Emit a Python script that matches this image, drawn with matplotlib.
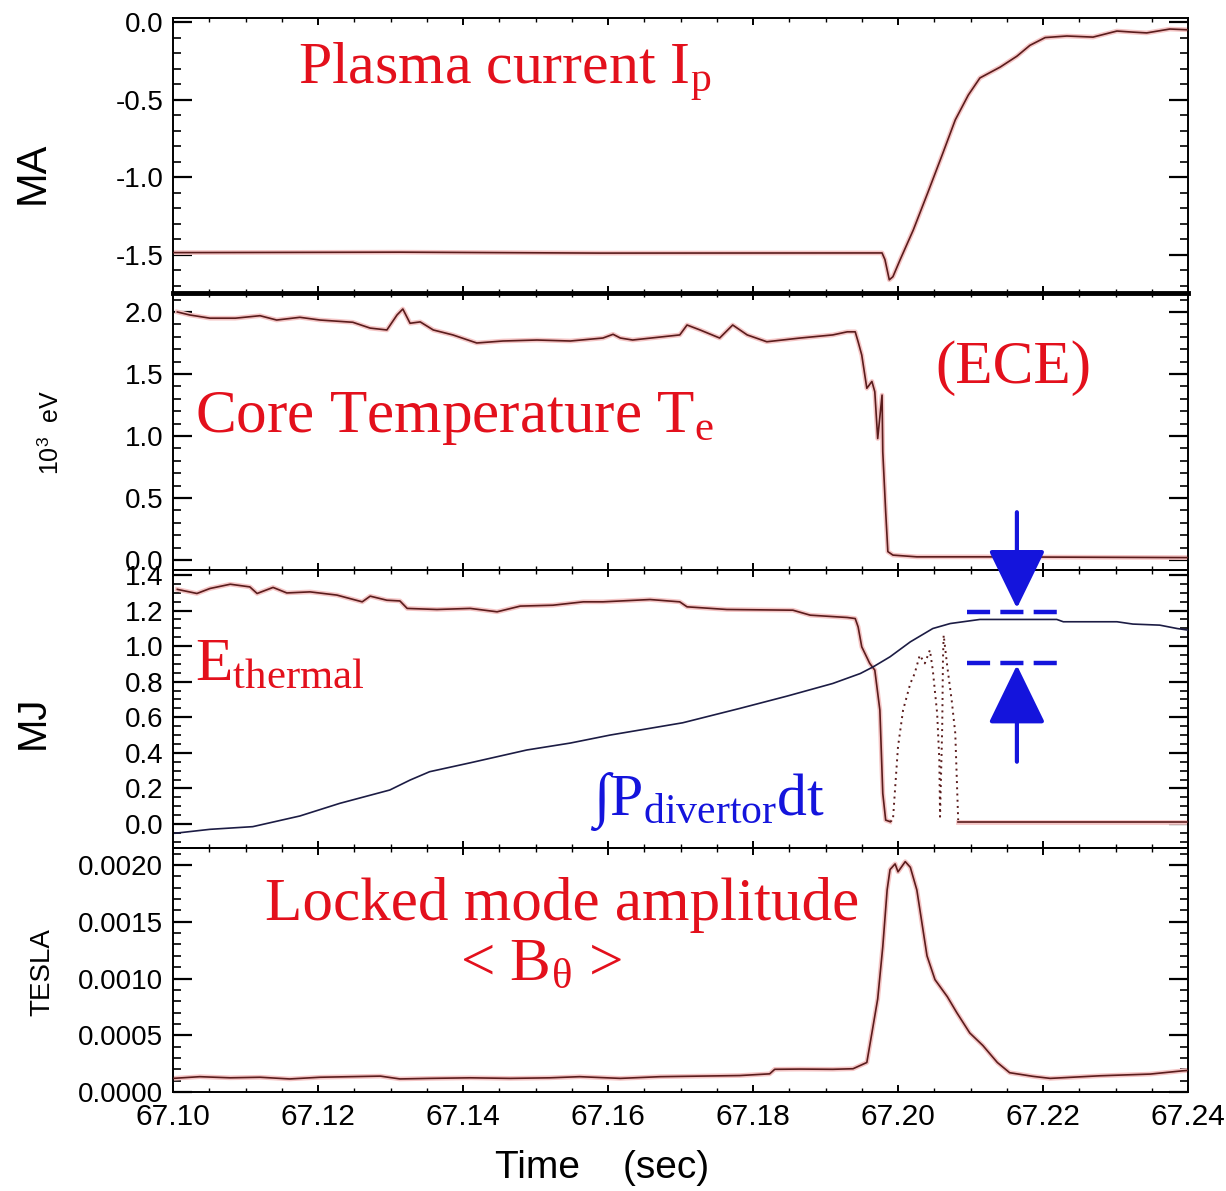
"""
Disrupción: Ip, Te, energía térmica y modo bloqueado (4 paneles apilados).
"""
import matplotlib
matplotlib.use('Agg')
import matplotlib.pyplot as plt
from matplotlib.ticker import MultipleLocator, FormatStrFormatter

plt.rcParams['font.family'] = ['Liberation Sans', 'DejaVu Sans']
plt.rcParams['axes.unicode_minus'] = False
plt.rcParams['mathtext.fontset'] = 'custom'
plt.rcParams['mathtext.rm'] = 'Liberation Serif'
plt.rcParams['mathtext.it'] = 'Liberation Serif:italic'
plt.rcParams['mathtext.sf'] = 'Liberation Sans'

# --- datos ---
ip_t = [67.1000, 67.1313, 67.1589, 67.1978, 67.1982, 67.1988, 67.1993, 67.2003,
        67.2021, 67.2041, 67.2061, 67.2079, 67.2097, 67.2113, 67.2141, 67.2164,
        67.2182, 67.2203, 67.2233, 67.2269, 67.2302, 67.2324, 67.2343, 67.2375, 67.2400]
ip_v = [-1.485, -1.482, -1.488, -1.487, -1.53, -1.66, -1.64, -1.53,
        -1.34, -1.10, -0.855, -0.63, -0.47, -0.36, -0.29, -0.22,
        -0.15, -0.10, -0.09, -0.097, -0.058, -0.065, -0.07, -0.045, -0.05]

te_t = [67.1006, 67.1023, 67.1051, 67.1086, 67.1120, 67.1143, 67.1175, 67.1203,
        67.1248, 67.1272, 67.1295, 67.1309, 67.1317, 67.1327, 67.1341, 67.1359,
        67.1386, 67.1419, 67.1455, 67.1502, 67.1548, 67.1593, 67.1607, 67.1617,
        67.1634, 67.1699, 67.1709, 67.1727, 67.1754, 67.1772, 67.1792, 67.1819,
        67.1865, 67.1910, 67.1930, 67.1941, 67.1945, 67.1950, 67.1957, 67.1964,
        67.1968, 67.1972, 67.1978, 67.1979, 67.1983, 67.1986, 67.1993, 67.2026,
        67.2117, 67.2400]
te_v = [2.00, 1.976, 1.95, 1.95, 1.97, 1.935, 1.957, 1.935,
        1.917, 1.87, 1.855, 1.976, 2.024, 1.909, 1.92, 1.855,
        1.815, 1.75, 1.766, 1.774, 1.766, 1.79, 1.82, 1.79,
        1.774, 1.815, 1.895, 1.855, 1.79, 1.895, 1.815, 1.76,
        1.79, 1.815, 1.84, 1.84, 1.76, 1.653, 1.385, 1.44,
        1.357, 0.98, 1.33, 0.873, 0.39, 0.068, 0.04, 0.026,
        0.026, 0.02]

eth_t = [67.1006, 67.1033, 67.1051, 67.1079, 67.1106, 67.1116, 67.1138, 67.1157,
         67.1189, 67.1226, 67.1261, 67.1272, 67.1295, 67.1313, 67.1323, 67.1364,
         67.1410, 67.1447, 67.1479, 67.1524, 67.1566, 67.1593, 67.1658, 67.1699,
         67.1709, 67.1764, 67.1855, 67.1879, 67.1930, 67.1941, 67.1945, 67.1950,
         67.1961, 67.1968, 67.1975, 67.1979, 67.1983, 67.1989]
eth_v = [1.319, 1.296, 1.324, 1.348, 1.333, 1.296, 1.330, 1.299,
         1.305, 1.287, 1.249, 1.281, 1.258, 1.254, 1.212, 1.206,
         1.212, 1.193, 1.225, 1.230, 1.249, 1.249, 1.262, 1.249,
         1.221, 1.206, 1.202, 1.174, 1.161, 1.155, 1.108, 0.996,
         0.903, 0.865, 0.64, 0.172, 0.022, 0.013]

# tramo punteado (reconstruccion ruidosa)
eth_dot_t = [67.1989, 67.1993, 67.2000, 67.2007, 67.2017, 67.2023, 67.2030, 67.2037,
             67.2044, 67.2048, 67.2054, 67.2057, 67.2058, 67.2061, 67.2062, 67.2063,
             67.2068, 67.2074, 67.2079, 67.2081, 67.2083]
eth_dot_v = [0.013, 0.022, 0.434, 0.64, 0.79, 0.846, 0.949, 0.903,
             0.978, 0.865, 0.622, 0.36, 0.041, 0.547, 0.921, 1.062,
             0.884, 0.697, 0.51, 0.266, 0.022]

eth_end_t = [67.2083, 67.2400]
eth_end_v = [0.013, 0.013]

pdiv_t = [67.1003, 67.1051, 67.1110, 67.1175, 67.1230, 67.1299, 67.1327, 67.1354,
          67.1410, 67.1488, 67.1548, 67.1603, 67.1703, 67.1782, 67.1847, 67.1910,
          67.1948, 67.1966, 67.1989, 67.2017, 67.2048, 67.2072, 67.2113, 67.2219,
          67.2228, 67.2302, 67.2324, 67.2361, 67.2385, 67.2400]
pdiv_v = [-0.052, -0.030, -0.015, 0.045, 0.116, 0.191, 0.247, 0.294,
          0.344, 0.416, 0.455, 0.5, 0.569, 0.65, 0.719, 0.79,
          0.846, 0.884, 0.94, 1.024, 1.099, 1.127, 1.150, 1.150,
          1.137, 1.137, 1.124, 1.118, 1.099, 1.09]

lm_t = [67.1000, 67.1037, 67.1079, 67.1120, 67.1161, 67.1203, 67.1244, 67.1286,
        67.1313, 67.1354, 67.1410, 67.1465, 67.1520, 67.1561, 67.1617, 67.1672,
        67.1727, 67.1782, 67.1823, 67.1830, 67.1865, 67.1910, 67.1938, 67.1957,
        67.1964, 67.1972, 67.1979, 67.1985, 67.1989, 67.1996, 67.2000, 67.2010,
        67.2017, 67.2026, 67.2033, 67.2040, 67.2051, 67.2068, 67.2081, 67.2099,
        67.2117, 67.2137, 67.2154, 67.2186, 67.2210, 67.2279, 67.2348, 67.2393, 67.2400]
lm_v = [0.00012, 0.000135, 0.000125, 0.00013, 0.000115, 0.00013, 0.000135, 0.00014,
        0.000115, 0.00012, 0.000125, 0.00012, 0.000125, 0.000135, 0.00012, 0.000135,
        0.00014, 0.000145, 0.00016, 0.0002, 0.000202, 0.0002, 0.000205, 0.00026,
        0.00052, 0.00082, 0.00128, 0.00178, 0.00196, 0.00201, 0.00194, 0.00203,
        0.00198, 0.00178, 0.00149, 0.0012, 0.00099, 0.00084, 0.0007, 0.00052,
        0.00041, 0.00026, 0.00017, 0.000138, 0.00012, 0.000143, 0.000158, 0.000187, 0.00019]

# flechas / lineas de marca (panel E)
arrow_t = 67.2164
dash_t = [67.2095, 67.2221]
level_hi, level_lo = 1.193, 0.906

RED = '#e3101c'
BLUE = '#1414dc'
TRACE = '#5a1c1c'

W, H = 1226, 1191
fig = plt.figure(figsize=(W / 100, H / 100), dpi=100)


def box(top, bottom):
    return [173 / W, 1 - bottom / H, 1015 / W, (bottom - top) / H]


ax1 = fig.add_axes(box(18, 293))
ax2 = fig.add_axes(box(293, 570), sharex=ax1)
ax3 = fig.add_axes(box(570, 848), sharex=ax1)
ax4 = fig.add_axes(box(848, 1092), sharex=ax1)
axes = [ax1, ax2, ax3, ax4]


def trace(ax, t, v, color=TRACE, halo=True):
    if halo:
        ax.plot(t, v, color='#f5c6c6', lw=3.4, zorder=2, solid_joinstyle='round')
    ax.plot(t, v, color=color, lw=1.2, zorder=3)


trace(ax1, ip_t, ip_v)
trace(ax2, te_t, te_v)
trace(ax3, eth_t, eth_v)
ax3.plot(eth_dot_t, eth_dot_v, color=TRACE, lw=1.4, ls=(0, (1, 2.2)), zorder=3)
trace(ax3, eth_end_t, eth_end_v)
trace(ax3, pdiv_t, pdiv_v, color='#1c1c44', halo=False)
trace(ax4, lm_t, lm_v)

# ejes
ax1.set_ylim(-1.745, 0.026)
ax1.yaxis.set_major_locator(MultipleLocator(0.5))
ax1.yaxis.set_minor_locator(MultipleLocator(0.1))
ax1.yaxis.set_major_formatter(FormatStrFormatter('%.1f'))

ax2.set_ylim(-0.08, 2.153)
ax2.yaxis.set_major_locator(MultipleLocator(0.5))
ax2.yaxis.set_minor_locator(MultipleLocator(0.1))
ax2.yaxis.set_major_formatter(FormatStrFormatter('%.1f'))

ax3.set_ylim(-0.135, 1.428)
ax3.yaxis.set_major_locator(MultipleLocator(0.2))
ax3.yaxis.set_minor_locator(MultipleLocator(0.05))
ax3.yaxis.set_major_formatter(FormatStrFormatter('%.1f'))

ax4.set_ylim(0, 0.00215)
ax4.yaxis.set_major_locator(MultipleLocator(0.0005))
ax4.yaxis.set_minor_locator(MultipleLocator(0.0001))
ax4.yaxis.set_major_formatter(FormatStrFormatter('%.4f'))

for ax in axes:
    ax.set_facecolor('none')
    ax.set_xlim(67.10, 67.24)
    ax.xaxis.set_major_locator(MultipleLocator(0.02))
    ax.xaxis.set_minor_locator(MultipleLocator(0.005))
    ax.xaxis.set_major_formatter(FormatStrFormatter('%.2f'))
    ax.tick_params(which='both', direction='in', top=True, right=True)
    ax.tick_params(axis='y', which='major', length=14, width=1.6, labelsize=20, pad=7)
    ax.tick_params(axis='y', which='minor', length=6, width=1.2)
    ax.tick_params(axis='x', which='major', length=5, width=1.4, labelsize=21.5, pad=8)
    ax.tick_params(axis='x', which='minor', length=3, width=1.0)
    for s in ax.spines.values():
        s.set_linewidth(1.4)
    if ax is not ax4:
        ax.tick_params(labelbottom=False)
ax1.spines['bottom'].set_linewidth(3.5)

# etiquetas de los ejes
fig.text(33 / W, 1 - 173 / H, 'MA', rotation=90, ha='center', va='center', fontsize=30)
fig.text(50 / W, 1 - 433 / H, r'10$^\mathsf{3}$  eV', rotation=90, ha='center', va='center', fontsize=18)
fig.text(33 / W, 1 - 722 / H, 'MJ', rotation=90, ha='center', va='center', fontsize=29)
fig.text(42 / W, 1 - 972 / H, 'TESLA', rotation=90, ha='center', va='center', fontsize=20)
fig.text(602 / W, 1 - 1168 / H, 'Time    (sec)', ha='center', va='center', fontsize=28)

# anotaciones
serif = ['Liberation Serif', 'DejaVu Serif']
ax1.text(0.123, 0.76, r'Plasma current I$_\mathrm{p}$', transform=ax1.transAxes,
         color=RED, fontsize=43, family=serif)
ax2.text(0.0217, 0.498, r'Core Temperature T$_\mathrm{e}$', transform=ax2.transAxes,
         color=RED, fontsize=44, family=serif)
ax2.text(0.751, 0.675, '(ECE)', transform=ax2.transAxes, color=RED, fontsize=44, family=serif)
ax3.text(0.0217, 0.604, r'E$_\mathrm{thermal}$', transform=ax3.transAxes,
         color=RED, fontsize=44, family=serif)
ax3.text(0.411, 0.119, r'∫P$_\mathrm{divertor}$dt', transform=ax3.transAxes,
         color=BLUE, fontsize=43, family=serif)
ax4.text(0.0906, 0.705, 'Locked mode amplitude', transform=ax4.transAxes,
         color=RED, fontsize=44, family=serif)
ax4.text(0.283, 0.459, r'< B$_\mathrm{θ}$ >', transform=ax4.transAxes,
         color=RED, fontsize=44, family=serif)

# flechas de balance de energia
arrow_style = dict(arrowstyle='-|>,head_length=3.7,head_width=1.8', mutation_scale=10,
                   lw=3, color=BLUE, shrinkA=0, shrinkB=0, clip_on=False)
ax3.annotate('', xy=(arrow_t, level_hi + 0.02), xytext=(arrow_t, 1.753),
             arrowprops=arrow_style, annotation_clip=False)
ax3.annotate('', xy=(arrow_t, level_lo - 0.013), xytext=(arrow_t, 0.35),
             arrowprops=arrow_style, annotation_clip=False)
ax3.plot(dash_t, [level_hi, level_hi], color=BLUE, lw=3.2, ls=(0, (5.2, 2.3)), zorder=4)
ax3.plot(dash_t, [level_lo, level_lo], color=BLUE, lw=3.2, ls=(0, (5.2, 2.3)), zorder=4)

fig.savefig('out.png', dpi=100)
